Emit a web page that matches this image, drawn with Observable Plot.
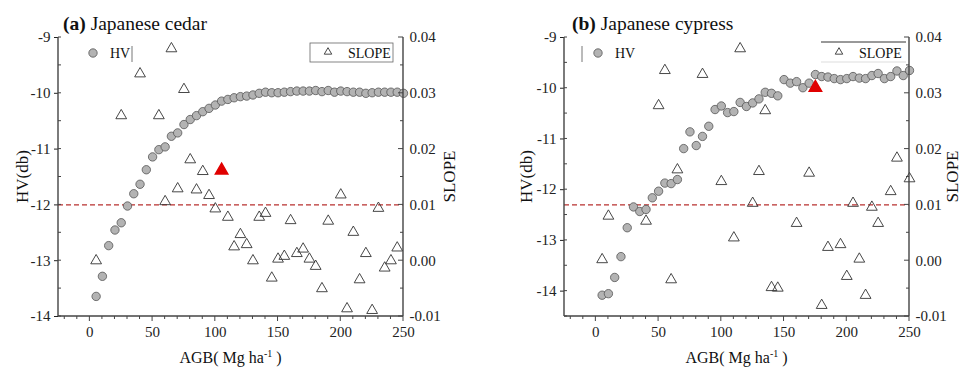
<!DOCTYPE html>
<html><head><meta charset="utf-8">
<script src="https://cdn.jsdelivr.net/npm/d3@7"></script>
<script src="https://cdn.jsdelivr.net/npm/@observablehq/plot@0.6"></script>
<style>
body{margin:0;background:#fff;}
#wrap{display:flex;width:964px;height:367px;overflow:hidden;}
</style></head><body><div id="wrap"></div>
<script>
// ---------- DATA ----------
const xDomain = [-25, 250];
const xTicks = [0, 50, 100, 150, 200, 250];
const slopeDomain = [-0.01, 0.04];
const slopeTicks = [-0.01, 0.00, 0.01, 0.02, 0.03, 0.04];
const thresholdSlope = 0.01;

// (a) Japanese cedar
const agbA = [5,10,15,20,25,30,35,40,45,50,55,60,65,70,75,80,85,90,95,100,105,110,115,120,125,130,135,140,145,150,155,160,165,170,175,180,185,190,195,200,205,210,215,220,225,230,235,240,245,250];
const hvA = [-13.64,-13.28,-12.73,-12.45,-12.32,-12.02,-11.80,-11.63,-11.37,-11.14,-11.01,-10.96,-10.77,-10.71,-10.56,-10.47,-10.40,-10.33,-10.27,-10.21,-10.14,-10.11,-10.08,-10.06,-10.05,-10.03,-10.00,-9.98,-9.99,-9.99,-9.98,-9.97,-9.96,-9.96,-9.96,-9.95,-9.97,-9.95,-9.98,-9.96,-9.97,-9.98,-9.98,-10.00,-9.99,-9.98,-9.98,-9.98,-9.98,-10.00];
const slopeAgbA = [5,25,40,55,60,65,70,75,80,85,90,95,100,110,115,120,125,130,135,140,145,150,155,160,165,170,175,180,185,190,200,205,210,215,220,225,230,235,240,245];
const slopeA = [0.0000,0.0260,0.0335,0.0260,0.0106,0.0380,0.0129,0.0307,0.0181,0.0127,0.0160,0.0117,0.0093,0.0078,0.0025,0.0047,0.0029,0.0000,0.0078,0.0085,-0.0031,0.0003,0.0008,0.0072,0.0013,0.0021,0.0003,-0.0010,-0.0050,0.0071,0.0118,-0.0086,0.0051,-0.0034,0.0013,-0.0089,0.0094,-0.0013,0.0000,0.0023];
const redAgbA = 105, redSlopeA = 0.0162;
const hvTicksA = [-14, -13, -12, -11, -10, -9];

// (b) Japanese cypress
const agbB = [5,10,15,20,25,30,35,40,45,50,55,60,65,70,75,80,85,90,95,100,105,110,115,120,125,130,135,140,145,150,155,160,165,170,175,180,185,190,195,200,205,210,215,220,225,230,235,240,245,250];
const hvB = [-14.08,-14.05,-13.73,-13.32,-12.75,-12.34,-12.43,-12.39,-12.16,-12.03,-11.87,-11.88,-11.80,-11.19,-10.86,-11.13,-10.95,-10.75,-10.42,-10.35,-10.48,-10.46,-10.28,-10.36,-10.29,-10.21,-10.08,-10.10,-10.15,-9.83,-9.90,-9.87,-9.99,-9.90,-9.73,-9.77,-9.78,-9.81,-9.83,-9.81,-9.77,-9.80,-9.81,-9.75,-9.71,-9.81,-9.77,-9.66,-9.75,-9.65];
const slopeAgbB = [5,10,40,50,55,60,65,85,100,110,115,125,130,135,140,145,160,170,180,185,195,200,205,210,215,220,225,235,240,250];
const slopeB = [0.0002,0.0080,0.0071,0.0278,0.0341,-0.0034,0.0163,0.0334,0.0142,0.0041,0.0380,0.0103,0.0160,0.0269,-0.0048,-0.0049,0.0067,0.0157,-0.0080,0.0024,0.0029,-0.0028,0.0103,0.0003,-0.0062,0.0096,0.0067,0.0124,0.0184,0.0147];
const redAgbB = 175, redSlopeB = 0.031;
const hvTicksB = [-14, -13, -12, -11, -10, -9];

const FONT = '"Liberation Serif", "Times New Roman", "DejaVu Serif", serif';

function panel(cfg) {
  const toHV = s => cfg.hvMin + (s - slopeDomain[0]) / (slopeDomain[1] - slopeDomain[0]) * (cfg.hvMax - cfg.hvMin);
  const toSlope = h => slopeDomain[0] + (h - cfg.hvMin) / (cfg.hvMax - cfg.hvMin) * (slopeDomain[1] - slopeDomain[0]);
  const hvData = cfg.agb.map((a, i) => ({agb: a, hv: cfg.hv[i]}));
  const slData = cfg.slAgb.map((a, i) => ({agb: a, hv: toHV(cfg.slope[i])}));
  const red = [{agb: cfg.redAgb, hv: toHV(cfg.redSlope)}];
  const plot = Plot.plot({
    width: 482, height: 367,
    marginLeft: cfg.ml, marginRight: cfg.mr, marginTop: 37, marginBottom: 51,
    x: {domain: xDomain, label: null},
    y: {domain: [cfg.hvMin, cfg.hvMax], label: null},
    style: {fontFamily: FONT, fontSize: "15px", color: "#222", background: "#fff", overflow: "visible"},
    marks: [
      Plot.ruleY([toHV(thresholdSlope)], {stroke: "#b8312f", strokeWidth: 1.2, strokeDasharray: "5,3"}),
      Plot.dot(slData, {x: "agb", y: "hv", symbol: "triangle", r: 4, stroke: "#333", strokeWidth: 0.9, fill: "none"}),
      Plot.dot(hvData, {x: "agb", y: "hv", r: 4.2, fill: "#b3b3b3", stroke: "#555", strokeWidth: 0.8}),
      Plot.dot(red, {x: "agb", y: "hv", symbol: "triangle", r: 4.6, fill: "#e00000", stroke: "#e00000"}),
      Plot.axisX({ticks: xTicks, tickSize: 0, tickPadding: 10, tickFormat: d => String(d), fontSize: 15, label: null}),
      Plot.axisY({anchor: "left", ticks: cfg.hvTicks, tickSize: 4, tickPadding: 4, tickFormat: d => String(d), fontSize: 15, label: null}),
      Plot.axisY({anchor: "right", ticks: slopeTicks.map(toHV), tickSize: 0, tickPadding: 6, label: null,
        tickFormat: h => (Math.round(toSlope(h) * 100) / 100).toFixed(2), fontSize: 15})
    ]
  });
  const svg = d3.select(plot);
  const xs = plot.scale("x"), ys = plot.scale("y");
  const X = v => xs.apply(v), Y = v => ys.apply(v);
  const x0 = X(xDomain[0]), x1 = X(xDomain[1]), y0 = Y(cfg.hvMin), y1 = Y(cfg.hvMax);
  const g = svg.append("g").attr("stroke", "#444").attr("fill", "none").attr("stroke-width", 1);
  g.append("line").attr("x1", x0).attr("x2", x0).attr("y1", y0).attr("y2", y1).attr("stroke-width", 1.4);
  g.append("line").attr("x1", x1).attr("x2", x1).attr("y1", y0).attr("y2", y1).attr("stroke-width", 1.4);
  g.append("line").attr("x1", x0).attr("x2", x1).attr("y1", y0).attr("y2", y0).attr("stroke-width", 1.4);
  for (let v = -20; v <= 250; v += 10) {
    const len = v % 50 === 0 ? 5 : 3;
    g.append("line").attr("x1", X(v)).attr("x2", X(v)).attr("y1", y0).attr("y2", y0 + len);
  }
  for (let v = Math.ceil(cfg.hvMin * 2) / 2; v <= cfg.hvMax + 1e-9; v += 0.5) {
    g.append("line").attr("x1", x0).attr("x2", x0 + 3).attr("y1", Y(v)).attr("y2", Y(v));
  }
  for (let s = -0.01; s <= 0.0401; s += 0.005) {
    const len = Math.abs(Math.round(s * 1000) % 10) === 0 ? 5 : 3;
    g.append("line").attr("x1", x1).attr("x2", x1 - len).attr("y1", Y(toHV(s))).attr("y2", Y(toHV(s)));
  }
  const t = svg.append("g").attr("font-family", FONT).attr("fill", "#111").attr("stroke", "none").attr("text-anchor", "start");
  const title = t.append("text").attr("x", cfg.titleX).attr("y", 30).attr("font-size", 19.5);
  title.append("tspan").attr("font-weight", "bold").text(cfg.tag);
  title.append("tspan").text(" " + cfg.title);
  const cy = (y0 + y1) / 2;
  t.append("text").attr("transform", `translate(${cfg.hvLabelX},${cy}) rotate(-90)`)
    .attr("text-anchor", "middle").attr("font-size", 17).text("HV(db)");
  t.append("text").attr("transform", `translate(${cfg.slLabelX},${cy}) rotate(-90)`)
    .attr("text-anchor", "middle").attr("font-size", 17).text("SLOPE");
  const xl = t.append("text").attr("x", (x0 + x1) / 2).attr("y", 363).attr("text-anchor", "middle").attr("font-size", 16);
  xl.append("tspan").text("AGB( Mg ha");
  xl.append("tspan").attr("dy", -6).attr("font-size", 10).text("-1");
  xl.append("tspan").attr("dy", 6).text(" )");
  const L = cfg.leg;
  g.append("line").attr("x1", L.hvLine).attr("x2", L.hvLine).attr("y1", 46).attr("y2", 62).attr("stroke", "#777").attr("stroke-width", 1);
  svg.append("circle").attr("cx", L.hvDot).attr("cy", 53).attr("r", 4.2).attr("fill", "#b3b3b3").attr("stroke", "#555").attr("stroke-width", 0.8);
  t.append("text").attr("x", L.hvDot + 17).attr("y", 58).attr("font-size", 14).text("HV");
  if (L.box) {
    g.append("rect").attr("x", L.box[0]).attr("y", 43).attr("width", L.box[1] - L.box[0]).attr("height", 19).attr("stroke", "#666").attr("stroke-width", 0.8);
  } else {
    g.append("line").attr("x1", L.top[0]).attr("x2", L.top[1]).attr("y1", 42).attr("y2", 42).attr("stroke", "#333").attr("stroke-width", 1);
    g.append("line").attr("x1", L.top[0]).attr("x2", L.top[1]).attr("y1", 62).attr("y2", 62).attr("stroke", "#ddd").attr("stroke-width", 1);
  }
  svg.append("path").attr("transform", `translate(${L.tri},52)`).attr("d", d3.symbol(d3.symbolTriangle2, 40)())
    .attr("fill", "none").attr("stroke", "#333").attr("stroke-width", 0.9);
  t.append("text").attr("x", L.tri + 20).attr("y", 58).attr("font-size", 14).text("SLOPE");
  return plot;
}

const wrap = document.getElementById("wrap");
wrap.appendChild(panel({
  agb: agbA, hv: hvA, slAgb: slopeAgbA, slope: slopeA, redAgb: redAgbA, redSlope: redSlopeA,
  hvMin: -14, hvMax: -9, hvTicks: hvTicksA, ml: 58, mr: 79,
  tag: "(a)", title: "Japanese cedar", titleX: 63, hvLabelX: 28, slLabelX: 455,
  leg: {hvLine: 132, hvDot: 93, box: [310, 393], tri: 328}
}));
wrap.appendChild(panel({
  agb: agbB, hv: hvB, slAgb: slopeAgbB, slope: slopeB, redAgb: redAgbB, redSlope: redSlopeB,
  hvMin: -14.5, hvMax: -9, hvTicks: hvTicksB, ml: 82, mr: 55,
  tag: "(b)", title: "Japanese cypress", titleX: 90, hvLabelX: 50, slLabelX: 476,
  leg: {hvLine: 100, hvDot: 116, top: [339, 424], tri: 357}
}));
</script></body></html>
